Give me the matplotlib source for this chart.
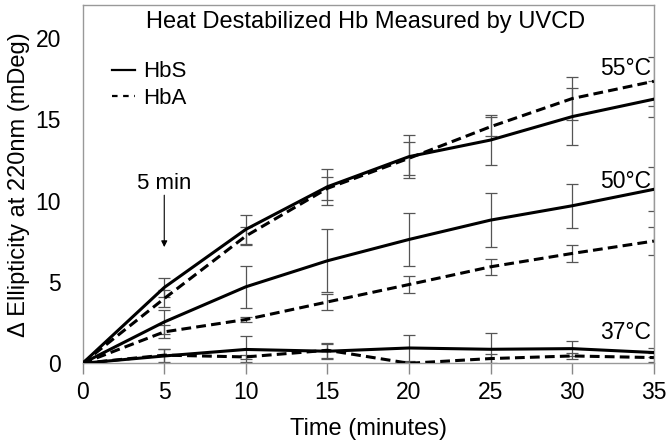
import matplotlib
matplotlib.use("Agg")
import matplotlib.pyplot as plt
from matplotlib.lines import Line2D

plt.rcParams['font.family'] = ['Liberation Sans', 'DejaVu Sans']

time = [0, 5, 10, 15, 20, 25, 30, 35]

hbs_55 = [0, 4.66, 8.23, 10.85, 12.70, 13.72, 15.16, 16.23]
hbs_55_err = [0, 0.6, 0.9, 1.1, 1.3, 1.55, 1.75, 1.1]
hba_55 = [0, 3.98, 7.82, 10.75, 12.6, 14.54, 16.27, 17.33]
hba_55_err = [0, 0.5, 0.55, 0.7, 1.0, 0.6, 1.3, 1.5]

hbs_50 = [0, 2.54, 4.70, 6.30, 7.61, 8.80, 9.68, 10.69]
hbs_50_err = [0, 0.75, 1.3, 1.95, 1.65, 1.68, 1.35, 1.35]
hba_50 = [0, 1.93, 2.69, 3.77, 4.84, 5.93, 6.75, 7.51]
hba_50_err = [0, 0.4, 0.15, 0.5, 0.5, 0.5, 0.52, 0.87]

hbs_37 = [0, 0.45, 0.85, 0.74, 0.94, 0.86, 0.90, 0.66]
hbs_37_err = [0, 0.45, 0.8, 0.47, 0.82, 1.0, 0.45, 0.3]
hba_37 = [0, 0.50, 0.39, 0.80, 0.0, 0.29, 0.45, 0.35]
hba_37_err = [0, 0.4, 0.1, 0.45, 0.1, 0.3, 0.2, 0.3]

x_ticks = [0, 5, 10, 15, 20, 25, 30, 35]
y_ticks = [0, 5, 10, 15, 20]
temp_labels = ["55°C", "50°C", "37°C"]
temp_label_y = [18.1, 11.15, 1.9]

fig = plt.figure(figsize=(6.72, 4.44), dpi=100)
ax = fig.add_axes([0.123, 0.1818, 0.850, 0.8063])

err_kw = dict(ecolor='#555555', elinewidth=0.9, capsize=4, capthick=0.9)
series = [
    (hbs_55, hbs_55_err, '-'), (hba_55, hba_55_err, '--'),
    (hbs_50, hbs_50_err, '-'), (hba_50, hba_50_err, '--'),
    (hbs_37, hbs_37_err, '-'), (hba_37, hba_37_err, '--'),
]
for vals, errs, ls in series:
    ax.errorbar(time, vals, yerr=errs, fmt='none', zorder=2, **err_kw)
for vals, errs, ls in series:
    if ls == '--':
        ax.plot(time, vals, color='black', lw=2.2, linestyle=(0, (3.2, 1.7)), zorder=3)
    else:
        ax.plot(time, vals, color='black', lw=2.2, linestyle='-', zorder=3)

ax.set_xlim(0, 35)
ax.set_ylim(0, 22)
ax.set_xticks(x_ticks)
ax.set_yticks(y_ticks)
ax.tick_params(axis='x', direction='out', length=8, width=1, color='#888888', labelsize=16.5, pad=5)
ax.tick_params(axis='y', length=0, labelsize=16.5, pad=15.5)
for s in ax.spines.values():
    s.set_color('#999999')
    s.set_linewidth(1)

ax.set_xlabel("Time (minutes)", fontsize=17, labelpad=10)
ax.set_ylabel("Δ Ellipticity at 220nm (mDeg)", fontsize=17, labelpad=4)

ax.text(0.496, 0.984, "Heat Destabilized Hb Measured by UVCD", transform=ax.transAxes,
        ha='center', va='top', fontsize=17)

for lab, yv in zip(temp_labels, temp_label_y):
    ax.text(34.85, yv, lab, ha='right', va='center', fontsize=16.5)

ax.annotate("", xy=(5, 6.97), xytext=(5, 10.5),
            arrowprops=dict(arrowstyle='-|>', color='black', lw=0.8, mutation_scale=9))
ax.text(5, 11.05, "5 min", ha='center', va='center', fontsize=16)

handles = [Line2D([], [], color='black', lw=1.6, linestyle='-'),
           Line2D([], [], color='black', lw=1.6, linestyle=(0, (2.5, 2.5)))]
ax.legend(handles, ["HbS", "HbA"], loc='center left', bbox_to_anchor=(0.051, 0.777),
          frameon=False, fontsize=16, handlelength=1.05, handletextpad=0.35,
          labelspacing=0.25, borderaxespad=0, borderpad=0)

fig.savefig("out.png", dpi=100)
